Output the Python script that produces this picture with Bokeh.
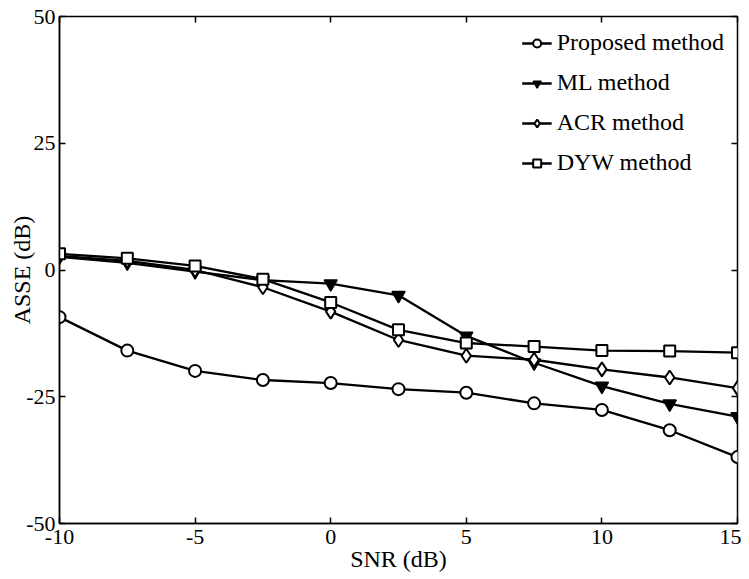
from bokeh.plotting import figure
from bokeh.models import Range1d, LinearAxis, FixedTicker, Legend, LegendItem, CustomJSTickFormatter
from bokeh.embed import file_html
from bokeh.resources import INLINE

snr = [-10, -7.5, -5, -2.5, 0, 2.5, 5, 7.5, 10, 12.5, 15]
proposed = [-9.3, -15.9, -19.9, -21.7, -22.3, -23.5, -24.2, -26.3, -27.6, -31.6, -36.9]
ml = [2.6, 1.4, -0.3, -2.0, -2.7, -5.0, -13.0, -18.3, -22.9, -26.4, -28.9]
acr = [2.8, 1.8, 0.0, -3.4, -8.2, -13.8, -16.9, -17.7, -19.6, -21.2, -23.3]
dyw = [3.2, 2.3, 0.8, -1.8, -6.4, -11.8, -14.4, -15.1, -15.9, -16.0, -16.3]
x_ticks = [-10, -5, 0, 5, 10, 15]
y_ticks = [-50, -25, 0, 25, 50]

FONT = "Liberation Serif"

p = figure(width=741, height=579, output_backend="svg", toolbar_location=None,
           x_range=Range1d(-10, 15), y_range=Range1d(-50, 50),
           min_border_left=59, min_border_right=4, min_border_top=16, min_border_bottom=56)
p.xgrid.visible = False
p.ygrid.visible = False
p.outline_line_color = "black"
p.outline_line_width = 1.5

for ax in (p.xaxis[0], p.yaxis[0]):
    ax.major_tick_in = 6
    ax.major_tick_out = 0
    ax.minor_tick_line_color = None
    ax.axis_line_color = "black"
    ax.axis_line_width = 1.5
    ax.major_tick_line_width = 1.5
    ax.major_label_text_font = FONT
    ax.major_label_text_font_size = "22px"
    ax.major_label_text_color = "black"
    ax.axis_label_text_font = FONT
    ax.axis_label_text_font_size = "24px"
    ax.axis_label_text_font_style = "normal"
    ax.axis_label_text_color = "black"
    ax.formatter = CustomJSTickFormatter(code="return tick.toString();")
p.xaxis[0].ticker = FixedTicker(ticks=x_ticks)
p.yaxis[0].ticker = FixedTicker(ticks=y_ticks)
p.xaxis[0].major_label_standoff = 6
p.yaxis[0].major_label_standoff = 4
p.xaxis[0].axis_label = "SNR (dB)"
p.yaxis[0].axis_label = "ASSE (dB)"
p.xaxis[0].axis_label_standoff = -1
p.yaxis[0].axis_label_standoff = -12

for loc, ticks in (("above", x_ticks), ("right", y_ticks)):
    ax = LinearAxis(ticker=FixedTicker(ticks=ticks), major_tick_in=6, major_tick_out=0,
                    minor_tick_line_color=None, axis_line_color=None,
                    major_tick_line_width=1.5, major_label_standoff=0,
                    formatter=CustomJSTickFormatter(code="return '';"))
    p.add_layout(ax, loc)

lw = 2.3
r1l = p.line(snr, proposed, line_color="black", line_width=lw)
r1m = p.scatter(snr, proposed, marker="circle", size=12, fill_color="white", line_color="black", line_width=2)
r2l = p.line(snr, ml, line_color="black", line_width=lw)
r2m = p.scatter(snr, ml, marker="inverted_triangle", size=13, fill_color="black", line_color="black", line_width=1.5)
r3l = p.line(snr, acr, line_color="black", line_width=lw)
r3m = p.scatter(snr, acr, marker="diamond", size=14, fill_color="white", line_color="black", line_width=2)
r4l = p.line(snr, dyw, line_color="black", line_width=lw)
r4m = p.scatter(snr, dyw, marker="square", size=11, fill_color="white", line_color="black", line_width=2)

legend = Legend(items=[
    LegendItem(label="Proposed method", renderers=[r1l, r1m]),
    LegendItem(label="ML method", renderers=[r2l, r2m]),
    LegendItem(label="ACR method", renderers=[r3l, r3m]),
    LegendItem(label="DYW method", renderers=[r4l, r4m]),
], location="top_right")
legend.border_line_alpha = 0
legend.background_fill_alpha = 0
legend.label_text_font = FONT
legend.label_text_font_size = "24px"
legend.label_text_color = "black"
legend.margin = 10
legend.padding = 3
legend.label_height = 20
legend.glyph_height = 20
legend.glyph_width = 30
legend.spacing = 13
legend.label_standoff = 5
p.add_layout(legend)

open("out.html", "w").write(file_html(p, INLINE))
